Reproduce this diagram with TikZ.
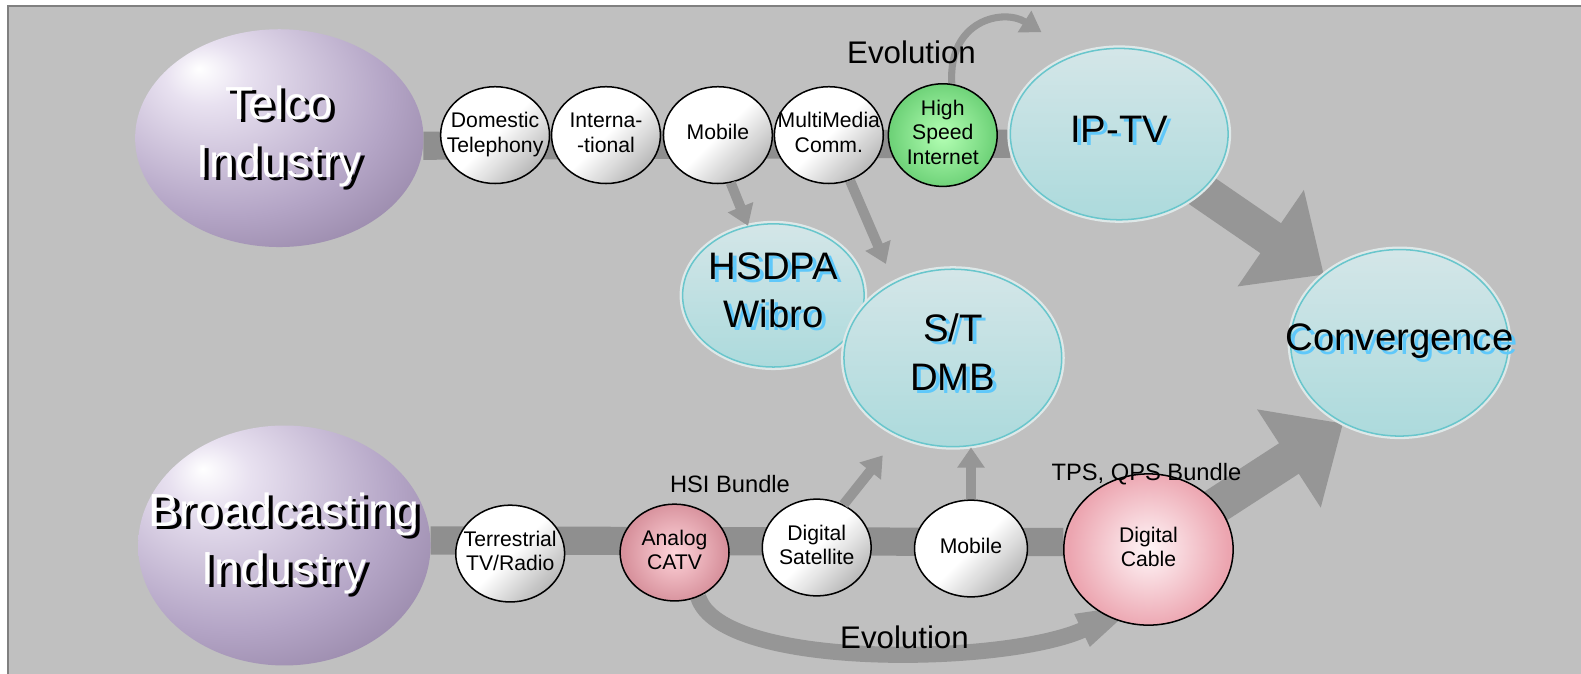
\documentclass[tikz,border=0pt]{standalone}
\usepackage{fontspec}
\setmainfont{Liberation Sans}
\usetikzlibrary{shapes.geometric}
\usetikzlibrary{arrows.meta}
\definecolor{bggray}{RGB}{192,192,192}
\definecolor{framegray}{RGB}{128,128,128}
\definecolor{bandgray}{RGB}{143,143,143}
\definecolor{arrowgray}{RGB}{150,150,150}
\definecolor{lavhi}{RGB}{232,225,240}
\definecolor{lavmid}{RGB}{180,165,198}
\definecolor{lavdark}{RGB}{135,118,152}
\definecolor{lavdeep}{RGB}{78,66,90}
\definecolor{cyantop}{RGB}{212,230,232}
\definecolor{cyanbot}{RGB}{172,218,220}
\definecolor{cyanrim}{RGB}{105,198,204}
\definecolor{cyanglow}{RGB}{222,232,232}
\definecolor{shadowblue}{RGB}{95,200,250}
\definecolor{greenin}{RGB}{180,255,180}
\definecolor{greenout}{RGB}{110,210,120}
\definecolor{pinkin}{RGB}{255,212,218}
\definecolor{pinkout}{RGB}{215,145,156}
\definecolor{pinklight}{RGB}{255,246,248}
\definecolor{pinkedge}{RGB}{236,165,176}
\pgfdeclareradialshading{lavball}{\pgfpoint{-14bp}{16bp}}{color(0bp)=(white); color(7bp)=(lavhi); color(28bp)=(lavmid); color(46bp)=(lavdark); color(64bp)=(lavdeep); color(80bp)=(lavdeep)}
\pgfdeclarelayer{background}
\pgfdeclarelayer{behind}
\pgfsetlayers{background,behind,main}
\newcommand{\ctext}[1]{\makebox[0pt]{\begin{tabular}{@{}c@{}}#1\end{tabular}}}
\newcommand{\shtext}[3]{\makebox[0pt]{\rlap{\kern4pt\raisebox{-3pt}{\color{#1}\begin{tabular}{@{}c@{}}#3\end{tabular}}}{\color{#2}\begin{tabular}{@{}c@{}}#3\end{tabular}}}}

\begin{document}
\begin{tikzpicture}[x=1pt,y=-1pt]
\tikzstyle{industry} = [ellipse, inner sep=0pt, shading=lavball, shade, font=\fontsize{46}{58}\selectfont]
\tikzstyle{service} = [ellipse, inner sep=0pt, draw=black, line width=1.5pt, minimum width=108pt, minimum height=96pt, top color=white, bottom color=black!28, middle color=white, shading angle=45, font=\fontsize{21}{24}\selectfont]
\tikzstyle{greensvc} = [service, inner color=greenin, outer color=greenout]
\tikzstyle{pinksvc} = [service, inner color=pinkin, outer color=pinkout]
\tikzstyle{target} = [ellipse, inner sep=0pt, top color=cyantop, bottom color=cyanbot, draw=cyanrim, line width=1.5pt, preaction={draw=cyanglow, line width=6pt}, font=\fontsize{38}{48}\selectfont]
\tikzstyle{band} = [draw=bandgray, line width=28pt]
\tikzstyle{connector} = [draw=arrowgray, line width=10pt, -{Triangle[width=26pt,length=20pt]}]
\tikzstyle{bigarrow} = [draw=arrowgray, line width=36pt, -{Triangle[width=112pt,length=64pt]}]
\tikzstyle{evoline} = [draw=arrowgray, line width=7pt, -{Triangle[width=24pt,length=20pt]}]
\tikzstyle{evoband} = [draw=arrowgray, line width=16pt, -{Triangle[width=30pt,length=70pt]}]
\tikzstyle{caption} = [inner sep=0pt, font=\fontsize{31}{36}\selectfont]
\tikzstyle{bundle} = [inner sep=0pt, font=\fontsize{23.5}{28}\selectfont]

\useasboundingbox (0,0) rectangle (1568,668);
\begin{pgfonlayer}{background}
\fill [bggray] (8,6) rectangle (1568,668);
\draw [framegray, line width=2pt] (8,668) -- (8,6) -- (1568,6);
\end{pgfonlayer}

\node [industry, minimum width=286pt, minimum height=216pt] at (277,137) (telco) {\shtext{black}{white}{Telco\\Industry}};
\node [industry, minimum width=290pt, minimum height=238pt] at (282,541) (bcast) {\shtext{black}{white}{Broadcasting\\Industry}};

\node [service] at (491,134) (dom) {\ctext{Domestic\\Telephony}};
\node [service] at (601,134) (intl) {\ctext{Interna-\\-tional}};
\node [service] at (712,134) (mobT) {\ctext{Mobile}};
\node [service] at (822,134) (mmc) {\ctext{MultiMedia\\Comm.}};
\node [greensvc] at (935,134) (hsi) {\ctext{High\\Speed\\Internet}};

\node [service] at (506,549) (terr) {\ctext{Terrestrial\\TV/Radio}};
\node [pinksvc] at (669,548) (catv) {\ctext{Analog\\CATV}};
\node [service] at (810,543) (dsat) {\ctext{Digital\\Satellite}};
\node [service, minimum width=112pt] at (963,544) (mobB) {\ctext{Mobile}};
\node [service, inner color=pinklight, outer color=pinkedge, minimum width=168pt, minimum height=150pt] at (1139,545) (dcab) {\ctext{Digital\\Cable}};

\node [target, minimum width=216pt, minimum height=170pt] at (1110,133) (iptv) {\shtext{shadowblue}{black}{IP-TV}};
\node [target, minimum width=180pt, minimum height=142pt] at (767,293) (hsdpa) {\shtext{shadowblue}{black}{HSDPA\\Wibro}};
\node [target, minimum width=216pt, minimum height=176pt] at (945,355) (stdmb) {\shtext{shadowblue}{black}{S/T\\DMB}};
\node [target, minimum width=216pt, minimum height=185pt] at (1388,340) (conv) {\shtext{shadowblue}{black}{Convergence}};

\node [caption] at (904,52) (evo1) {Evolution};
\node [caption] at (897,632) (evo2) {Evolution};
\node [bundle] at (724,480) (hsib) {HSI Bundle};
\node [bundle] at (1137,470) (tpsb) {TPS, QPS Bundle};

\coordinate (evotip) at (1033,32);

\begin{pgfonlayer}{behind}
\path [band] (telco.-3) -- (iptv.185);
\path [band] (bcast.2) -- (dcab.175);
\path [bigarrow] (iptv.center) -- (conv.138);
\path [bigarrow] (dcab.center) -- (conv.-125);
\path [evoline] (hsi.80) .. controls (940,20) and (995,8) .. (evotip);
\path [evoband, shorten >=-40pt] (catv.-62) .. controls (715,665) and (1000,660) .. (dcab.-120);
\end{pgfonlayer}

\path [connector] (mobT.-75) -- (hsdpa.110);
\path [connector, shorten >=20pt] (mmc.-65) -- (stdmb.128);
\path [connector, shorten >=25pt] (dsat.58) -- (stdmb.-125);
\path [connector] (mobB.north) -- (mobB.north |- stdmb.south);

\end{tikzpicture}
\end{document}
